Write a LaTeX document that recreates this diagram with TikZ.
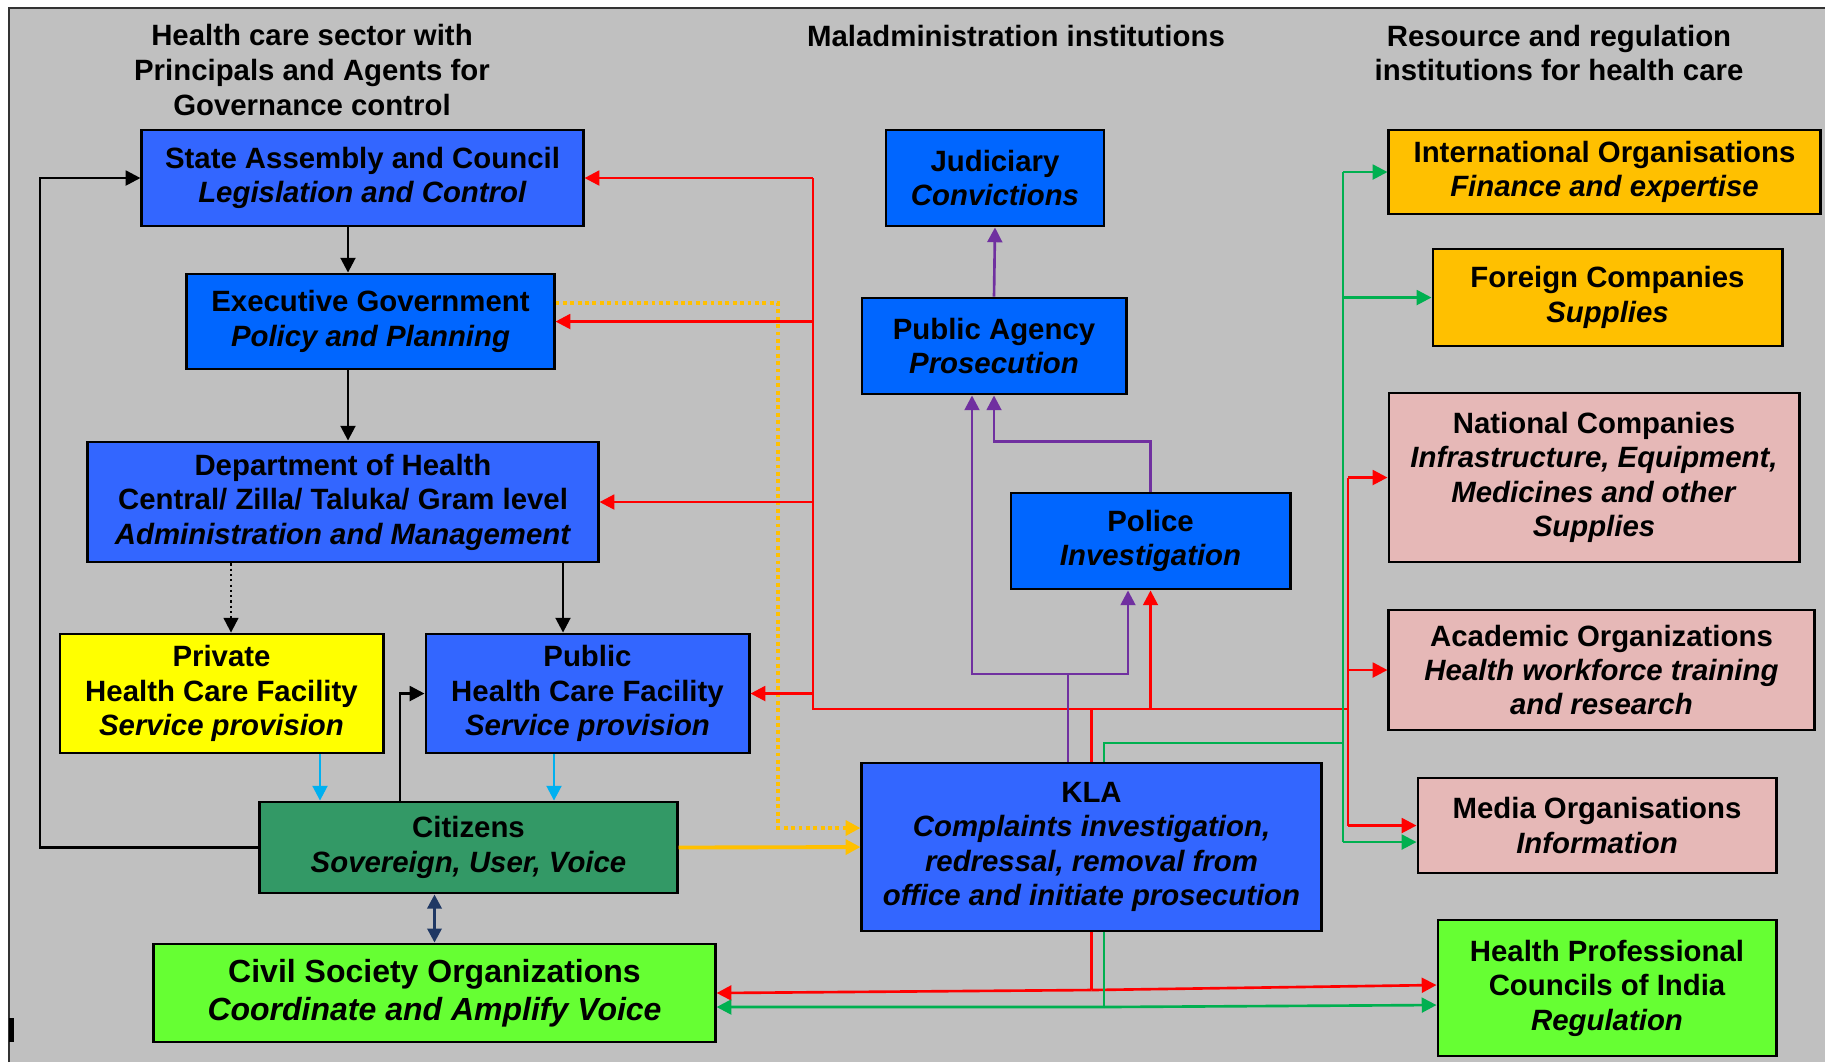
\documentclass[tikz,border=0pt]{standalone}
\usepackage{fontspec}
\setmainfont{Liberation Sans}
\usepackage{xcolor}
\usepackage{tikz}
\usetikzlibrary{arrows.meta}

\definecolor{bgray}{HTML}{C0C0C0}
\definecolor{blueA}{HTML}{3366FF}
\definecolor{blueB}{HTML}{0066FF}
\definecolor{yelbox}{HTML}{FFFF00}
\definecolor{citgreen}{HTML}{339966}
\definecolor{limegreen}{HTML}{66FF33}
\definecolor{amber}{HTML}{FFC000}
\definecolor{rose}{HTML}{E6B8B7}
\definecolor{linkred}{HTML}{FF0000}
\definecolor{linkgreen}{HTML}{00B050}
\definecolor{linkpurple}{HTML}{7030A0}
\definecolor{linkcyan}{HTML}{00B0F0}
\definecolor{linknavy}{HTML}{1F3864}

\begin{document}
\begin{tikzpicture}[x=0.01cm,y=-0.01cm,
box/.style={draw,rectangle,line width=0.8pt,inner sep=0pt,align=center,
  font=\fontsize{8.35}{9.8}\selectfont\bfseries},
head/.style={align=center,font=\fontsize{8.35}{9.9}\selectfont\bfseries},
link/.style={line width=0.75pt},
tip/.style={-{Triangle[length=4.2pt,width=4.2pt]}},
redl/.style={link,linkred},
greenl/.style={link,linkgreen},
purl/.style={link,linkpurple},
cyanl/.style={link,linkcyan},
yell/.style={line width=1.1pt,amber}]
\useasboundingbox (0,0) rectangle (1825,1062);
\fill[bgray] (9,8) rectangle (1825,1062);
\draw[black!80,line width=0.6pt] (9,1062) |- (1825,8);
\fill (9,1018) rectangle (14,1042);

\node (lefthead) [head] at (312,70) {Health care sector with\\Principals and Agents for\\Governance control};
\node (midhead) [head] at (1016,36) {Maladministration institutions};
\node (righthead) [head] at (1559,53) {Resource and regulation\\institutions for health care};

\node (state) [box,fill=blueA,minimum width=4.41cm,minimum height=0.96cm] at (362.5,178)
  {State Assembly and Council\\\textit{Legislation and Control}};
\node (exec) [box,fill=blueB,minimum width=3.67cm,minimum height=0.95cm] at (370.5,321.5)
  {Executive Government\\\textit{Policy and Planning}};
\node (dept) [box,fill=blueA,minimum width=5.10cm,minimum height=1.20cm] at (343,502)
  {Department of Health\\Central/ Zilla/ Taluka/ Gram level\\\textit{Administration and Management}};
\node (private) [box,fill=yelbox,minimum width=3.23cm,minimum height=1.19cm] at (221.5,693.5)
  {Private\\Health Care Facility\\\textit{Service provision}};
\node (phcf) [box,fill=blueA,minimum width=3.23cm,minimum height=1.19cm] at (587.5,693.5)
  {Public\\Health Care Facility\\\textit{Service provision}};
\node (cit) [box,fill=citgreen,minimum width=4.17cm,minimum height=0.91cm] at (468.5,847.5)
  {Citizens\\\textit{Sovereign, User, Voice}};
\node (cso) [box,fill=limegreen,minimum width=5.61cm,minimum height=0.98cm,
    font=\fontsize{9.1}{10.8}\selectfont\bfseries] at (434.5,993)
  {Civil Society Organizations\\\textit{Coordinate and Amplify Voice}};
\node (judiciary) [box,fill=blueB,minimum width=2.18cm,minimum height=0.96cm] at (995,178)
  {Judiciary\\\textit{Convictions}};
\node (agency) [box,fill=blueB,minimum width=2.64cm,minimum height=0.96cm] at (994,346)
  {Public Agency\\\textit{Prosecution}};
\node (police) [box,fill=blueB,minimum width=2.79cm,minimum height=0.96cm] at (1150.5,541)
  {Police\\\textit{Investigation}};
\node (kla) [box,fill=blueA,minimum width=4.59cm,minimum height=1.68cm] at (1091.5,847)
  {KLA\\\textit{Complaints investigation,}\\\textit{redressal, removal from}\\\textit{office and initiate prosecution}};
\node (intl) [box,fill=amber,minimum width=4.31cm,minimum height=0.84cm] at (1604.5,172)
  {International Organisations\\\textit{Finance and expertise}};
\node (foreign) [box,fill=amber,minimum width=3.49cm,minimum height=0.97cm] at (1607.5,297.5)
  {Foreign Companies\\\textit{Supplies}};
\node (national) [box,fill=rose,minimum width=4.10cm,minimum height=1.69cm] at (1594,477.5)
  {National Companies\\\textit{Infrastructure, Equipment,}\\\textit{Medicines and other}\\\textit{Supplies}};
\node (academic) [box,fill=rose,minimum width=4.25cm,minimum height=1.20cm] at (1601.5,670)
  {Academic Organizations\\\textit{Health workforce training}\\\textit{and research}};
\node (media) [box,fill=rose,minimum width=3.58cm,minimum height=0.95cm] at (1597,825.5)
  {Media Organisations\\\textit{Information}};
\node (hpc) [box,fill=limegreen,minimum width=3.38cm,minimum height=1.36cm] at (1607,988)
  {Health Professional\\Councils of India\\\textit{Regulation}};

\coordinate (gx) at (348,0);
\coordinate (px) at (231,0);
\coordinate (hx) at (563,0);
\coordinate (lx) at (40,500);
\coordinate (ux) at (400,0);
\coordinate (c1) at (320,0);
\coordinate (c2) at (554,0);
\coordinate (yx) at (778,500);
\coordinate (rl) at (813,709);
\coordinate (rr) at (1348,709);
\coordinate (rb) at (1091.5,990);
\coordinate (gk) at (1104,743);
\coordinate (gt) at (1343,743);
\coordinate (gb) at (1104,1007);
\coordinate (pk) at (1068,674);
\coordinate (gm) at ([yshift=-0.165cm]media.west);

\draw[link,tip] (state.south -| gx) -- (exec.north -| gx);
\draw[link,tip] (exec.south -| gx) -- (dept.north -| gx);
\draw[link,tip,line width=0.6pt,dash pattern=on 0.6pt off 0.9pt] (dept.south -| px) -- (private.north -| px);
\draw[link,tip] (dept.south -| hx) -- (phcf.north -| hx);
\draw[link,tip] (cit.west) -| (lx) |- (state.west);
\draw[link,tip] (cit.north -| ux) |- (phcf.west);
\draw[cyanl,tip] (private.south -| c1) -- (cit.north -| c1);
\draw[cyanl,tip] (phcf.south -| c2) -- (cit.north -| c2);
\draw[linknavy,line width=0.9pt,{Triangle[length=4pt,width=4pt]}-{Triangle[length=4pt,width=4pt]}]
  (cso.north |- cit.south) -- (cso.north);

\draw[yell,tip,dash pattern=on 1.1pt off 1pt] ([yshift=0.185cm]exec.east) -| (yx) |- ([yshift=0.19cm]kla.west);
\draw[yell,tip] (cit.east) -- (kla.west);

\draw[redl] (state.east -| rl) -- (rl) -- (rr);
\draw[redl,tip] (state.east -| rl) -- (state.east);
\draw[redl,tip] (exec.east -| rl) -- (exec.east);
\draw[redl,tip] (dept.east -| rl) -- (dept.east);
\draw[redl,tip] (phcf.east -| rl) -- (phcf.east);
\draw[redl] (national.west -| rr) -- (media.west -| rr);
\draw[redl,tip] (national.west -| rr) -- (national.west);
\draw[redl,tip] (academic.west -| rr) -- (academic.west);
\draw[redl,tip] (media.west -| rr) -- (media.west);
\draw[redl] (kla.north) -- (kla.north |- rl);
\draw[redl,tip] (police.south |- rl) -- (police.south);
\draw[redl] (kla.south) -- (rb);
\draw[redl,tip] (rb) -- (cso.east);
\draw[redl,tip] (rb) -- ([yshift=0.03cm]hpc.west);

\draw[greenl] (kla.north -| gk) -- (gk) -- (gt);
\draw[greenl] (intl.west -| gt) -- (gm -| gt);
\draw[greenl,tip] (intl.west -| gt) -- (intl.west);
\draw[greenl,tip] (foreign.west -| gt) -- (foreign.west);
\draw[greenl,tip] (gm -| gt) -- (gm);
\draw[greenl] (kla.south -| gb) -- (gb);
\draw[greenl,tip] (gb) -- ([yshift=-0.14cm]cso.east);
\draw[greenl,tip] (gb) -- ([yshift=-0.17cm]hpc.west);

\draw[purl] (kla.north -| pk) -- (pk);
\draw[purl,tip] (pk) -| ([xshift=-0.22cm]agency.south);
\draw[purl,tip] (pk) -| ([xshift=-0.225cm]police.south);
\draw[purl,tip] (police.north) -- ++(0,-50) -| (agency.south);
\draw[purl,tip] (agency.north) -- (judiciary.south);
\end{tikzpicture}
\end{document}
